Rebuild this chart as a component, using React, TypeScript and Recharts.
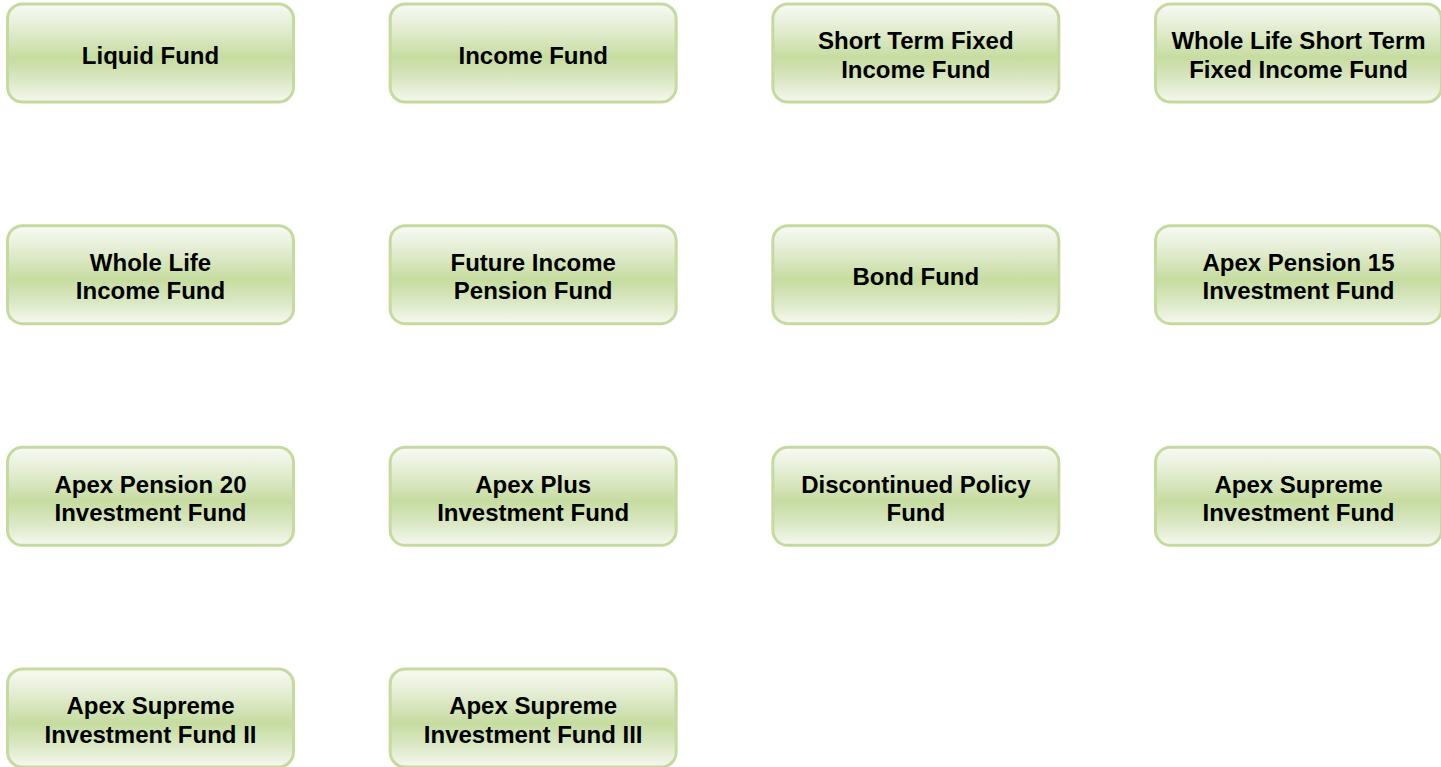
import React from "react";
import { ScatterChart, Scatter, XAxis, YAxis } from "recharts";

// Fund names (line breaks marked by "|")
const fundLabels: string[] = [
  "Liquid Fund",
  "Income Fund",
  "Short Term Fixed|Income Fund",
  "Whole Life Short Term|Fixed Income Fund",
  "Whole Life|Income Fund",
  "Future Income|Pension Fund",
  "Bond Fund",
  "Apex Pension 15|Investment Fund",
  "Apex Pension 20|Investment Fund",
  "Apex Plus|Investment Fund",
  "Discontinued Policy|Fund",
  "Apex Supreme|Investment Fund",
  "Apex Supreme|Investment Fund II",
  "Apex Supreme|Investment Fund III",
];
// Grid column / row of each box
const gridCols: number[] = [0, 1, 2, 3, 0, 1, 2, 3, 0, 1, 2, 3, 0, 1];
const gridRows: number[] = [0, 0, 0, 0, 1, 1, 1, 1, 2, 2, 2, 2, 3, 3];

const data = fundLabels.map((label, i) => ({
  col: gridCols[i],
  row: gridRows[i],
  label,
}));

const BOX_W = 286;
const BOX_H = 98;
const FONT = 24;
const LINE_H = 28.5;

const FundBox = (props: any) => {
  const { cx, cy, payload, index } = props;
  if (cx == null || cy == null) return null;
  const lines: string[] = String(payload.label).split("|");
  const n = lines.length;
  const gid = `fundGrad${index}`;
  return (
    <g>
      <defs>
        <linearGradient id={gid} x1="0" y1="0" x2="0" y2="1">
          <stop offset="0%" stopColor="#f8faf4" />
          <stop offset="25%" stopColor="#e3edd2" />
          <stop offset="55%" stopColor="#c6dca0" />
          <stop offset="80%" stopColor="#dde9c8" />
          <stop offset="100%" stopColor="#f6f9f0" />
        </linearGradient>
      </defs>
      <rect
        x={cx - BOX_W / 2}
        y={cy - BOX_H / 2}
        width={BOX_W}
        height={BOX_H}
        rx={15}
        ry={15}
        fill={`url(#${gid})`}
        stroke="#c5da9e"
        strokeWidth={3}
      />
      {lines.map((line, i) => (
        <text
          key={i}
          x={cx}
          y={cy + 2 + (i - (n - 1) / 2) * LINE_H + 8.5}
          textAnchor="middle"
          fontFamily="'Liberation Sans', Arial, sans-serif"
          fontWeight="bold"
          fontSize={FONT}
          fill="#000"
        >
          {line}
        </text>
      ))}
    </g>
  );
};

export default function App() {
  return (
    <div style={{ position: "absolute", left: 0, top: 0, background: "#fff" }}>
      <ScatterChart
        width={1441}
        height={767}
        margin={{ top: 53, right: 142.5, bottom: 49, left: 150.5 }}
      >
        <XAxis type="number" dataKey="col" domain={[0, 3]} hide />
        <YAxis type="number" dataKey="row" domain={[0, 3]} reversed hide />
        <Scatter
          data={data}
          isAnimationActive={false}
          shape={FundBox}
        />
      </ScatterChart>
    </div>
  );
}
